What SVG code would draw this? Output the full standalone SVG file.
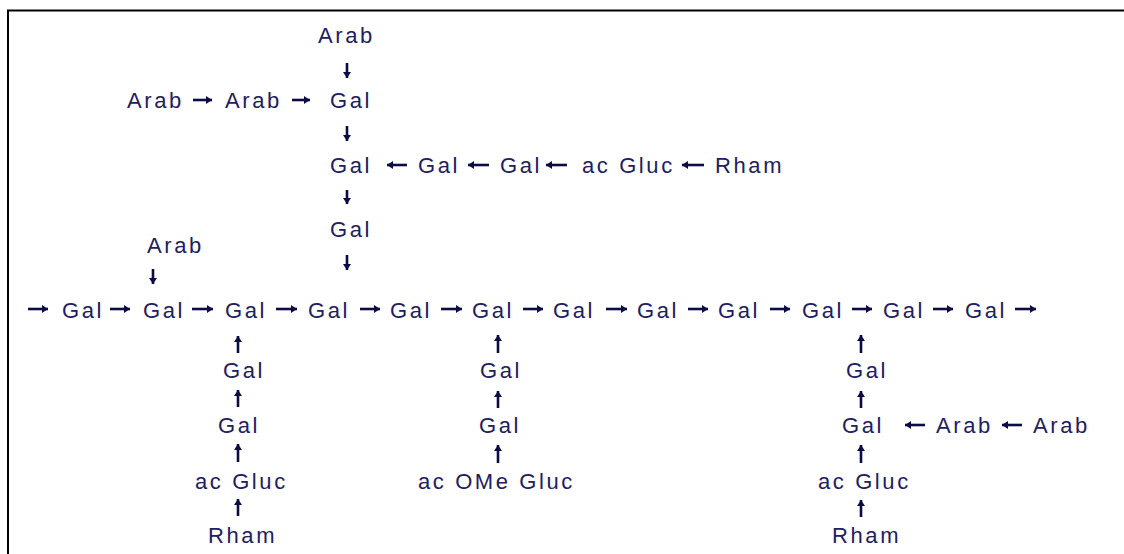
<svg xmlns="http://www.w3.org/2000/svg" width="1124" height="554" viewBox="0 0 1124 554">
<style>
text{font-family:"Liberation Sans",Arial,sans-serif;font-size:22px;fill:#202060;letter-spacing:2.6px}
.c line{stroke:#0b0b45;stroke-width:2.6;marker-end:url(#ah)}
</style>
<defs>
<marker id="ah" viewBox="0 0 6 8" refX="6" refY="4" markerWidth="6" markerHeight="8" markerUnits="userSpaceOnUse" orient="auto"><path d="M0,0 L6,4 L0,8 z" fill="#0b0b45"/></marker>
</defs>
<rect width="1124" height="554" fill="#fff"/>
<path d="M8 554 V10.5 H1124" fill="none" stroke="#000" stroke-width="2"/>

<g id="top-arab"><text x="318" y="43">Arab</text></g>
<g id="arab-a"><text x="127" y="108">Arab</text></g>
<g id="arab-b"><text x="225" y="108">Arab</text></g>
<g id="gal-t1"><text x="330" y="108">Gal</text></g>
<g id="gal-t2"><text x="330" y="173">Gal</text></g>
<g id="gal-r1"><text x="418" y="173">Gal</text></g>
<g id="gal-r2"><text x="500" y="173">Gal</text></g>
<g id="acgluc-r"><text x="582" y="173">ac Gluc</text></g>
<g id="rham-r"><text x="715" y="173">Rham</text></g>
<g id="gal-t3"><text x="330" y="237">Gal</text></g>
<g id="arab-left"><text x="147" y="253">Arab</text></g>

<g id="main1"><text x="62" y="318">Gal</text></g>
<g id="main2"><text x="143" y="318">Gal</text></g>
<g id="main3"><text x="225" y="318">Gal</text></g>
<g id="main4"><text x="308" y="318">Gal</text></g>
<g id="main5"><text x="390" y="318">Gal</text></g>
<g id="main6"><text x="472" y="318">Gal</text></g>
<g id="main7"><text x="553" y="318">Gal</text></g>
<g id="main8"><text x="637" y="318">Gal</text></g>
<g id="main9"><text x="718" y="318">Gal</text></g>
<g id="main10"><text x="802" y="318">Gal</text></g>
<g id="main11"><text x="883" y="318">Gal</text></g>
<g id="main12"><text x="965" y="318">Gal</text></g>

<g id="lb-gal1"><text x="223" y="378">Gal</text></g>
<g id="lb-gal2"><text x="218" y="433">Gal</text></g>
<g id="lb-acgluc"><text x="195" y="489">ac Gluc</text></g>
<g id="lb-rham"><text x="208" y="543">Rham</text></g>

<g id="mb-gal1"><text x="480" y="378">Gal</text></g>
<g id="mb-gal2"><text x="479" y="433">Gal</text></g>
<g id="mb-acomegluc"><text x="418" y="489">ac OMe Gluc</text></g>

<g id="rb-gal1"><text x="846" y="378">Gal</text></g>
<g id="rb-gal2"><text x="842" y="433">Gal</text></g>
<g id="rb-arab1"><text x="936" y="433">Arab</text></g>
<g id="rb-arab2"><text x="1033" y="433">Arab</text></g>
<g id="rb-acgluc"><text x="818" y="489">ac Gluc</text></g>
<g id="rb-rham"><text x="832" y="543">Rham</text></g>

<g id="connectors" class="c">
<line x1="347" y1="63" x2="347" y2="78"/>
<line x1="193" y1="100" x2="212" y2="100"/>
<line x1="292" y1="100" x2="310" y2="100"/>
<line x1="347" y1="126" x2="347" y2="141"/>
<line x1="407" y1="165" x2="387" y2="165"/>
<line x1="489" y1="165" x2="468" y2="165"/>
<line x1="567" y1="165" x2="546" y2="165"/>
<line x1="704" y1="165" x2="682" y2="165"/>
<line x1="347" y1="190" x2="347" y2="204"/>
<line x1="347" y1="255" x2="347" y2="270"/>
<line x1="153" y1="269" x2="153" y2="284"/>

<line x1="28" y1="309" x2="48" y2="309"/>
<line x1="110" y1="309" x2="130" y2="309"/>
<line x1="192" y1="309" x2="213" y2="309"/>
<line x1="276" y1="309" x2="297" y2="309"/>
<line x1="360" y1="309" x2="380" y2="309"/>
<line x1="441" y1="309" x2="462" y2="309"/>
<line x1="523" y1="309" x2="543" y2="309"/>
<line x1="606" y1="309" x2="627" y2="309"/>
<line x1="688" y1="309" x2="708" y2="309"/>
<line x1="770" y1="309" x2="790" y2="309"/>
<line x1="852" y1="309" x2="872" y2="309"/>
<line x1="933" y1="309" x2="953" y2="309"/>
<line x1="1015" y1="309" x2="1036" y2="309"/>

<line x1="238" y1="353" x2="238" y2="336"/>
<line x1="238" y1="407" x2="238" y2="390"/>
<line x1="238" y1="462" x2="238" y2="444"/>
<line x1="238" y1="516" x2="238" y2="499"/>

<line x1="498" y1="353" x2="498" y2="335"/>
<line x1="498" y1="408" x2="498" y2="391"/>
<line x1="498" y1="463" x2="498" y2="445"/>

<line x1="861" y1="353" x2="861" y2="335"/>
<line x1="861" y1="408" x2="861" y2="391"/>
<line x1="861" y1="463" x2="861" y2="445"/>
<line x1="861" y1="517" x2="861" y2="500"/>
<line x1="925" y1="425" x2="905" y2="425"/>
<line x1="1022" y1="425" x2="1002" y2="425"/>
</g>
</svg>
